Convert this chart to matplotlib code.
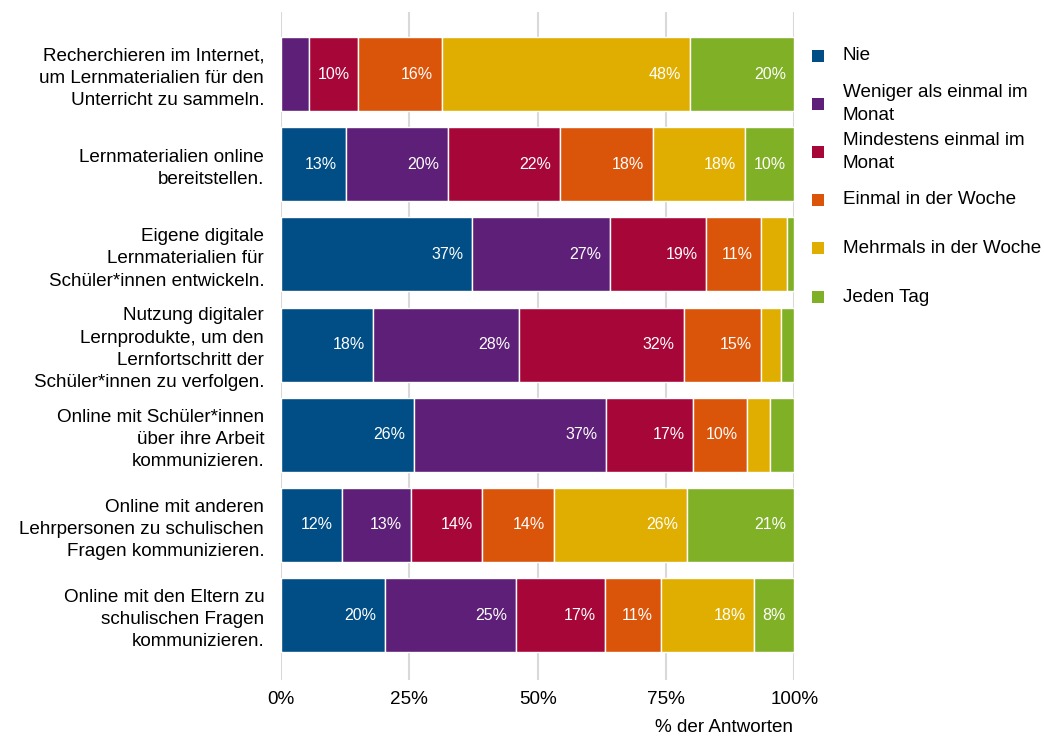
import numpy as np
import matplotlib.pyplot as plt
from matplotlib.patches import Rectangle

plt.rcParams['font.family'] = ['Liberation Sans', 'DejaVu Sans']

# Survey items (top to bottom)
items = [
    'Recherchieren im Internet,\num Lernmaterialien für den\nUnterricht zu sammeln.',
    'Lernmaterialien online\nbereitstellen.',
    'Eigene digitale\nLernmaterialien für\nSchüler*innen entwickeln.',
    'Nutzung digitaler\nLernprodukte, um den\nLernfortschritt der\nSchüler*innen zu verfolgen.',
    'Online mit Schüler*innen\nüber ihre Arbeit\nkommunizieren.',
    'Online mit anderen\nLehrpersonen zu schulischen\nFragen kommunizieren.',
    'Online mit den Eltern zu\nschulischen Fragen\nkommunizieren.',
]

# Answer categories and colours
categories = ['Nie', 'Weniger als einmal im\nMonat', 'Mindestens einmal im\nMonat',
              'Einmal in der Woche', 'Mehrmals in der Woche', 'Jeden Tag']
colors = ['#004E85', '#5E1F78', '#A70639', '#DA550A', '#E0AE00', '#80B025']

# Share of answers in % per category (one list per category, same order as items)
nie        = [0.0, 12.6, 37.3, 18.0, 26.0, 11.9, 20.3]
weniger    = [5.5, 20.0, 26.8, 28.4, 37.3, 13.4, 25.4]
mindestens = [9.6, 21.7, 18.7, 32.0, 17.0, 13.9, 17.4]
einmal     = [16.2, 18.1, 10.7, 15.0, 10.4, 13.9, 11.0]
mehrmals   = [48.4, 17.9, 5.1, 3.9, 4.6, 26.0, 18.1]
jeden_tag  = [20.3, 9.7, 1.4, 2.7, 4.7, 20.9, 7.8]

series = [nie, weniger, mindestens, einmal, mehrmals, jeden_tag]
ticks = [0, 25, 50, 75, 100]
tick_labels = ['0%', '25%', '50%', '75%', '100%']

FS = 13.6

fig = plt.figure(figsize=(10.44, 7.38), dpi=100)
ax = fig.add_axes([0.269, 0.0786, 0.492, 0.9054])

y = np.arange(len(items))
left = np.zeros(len(items))
for vals, col in zip(series, colors):
    vals = np.array(vals)
    bars = ax.barh(y, vals, left=left, height=0.82, color=col,
                   edgecolor='white', linewidth=1, zorder=3)
    # percentage labels only on wide enough segments
    for rect, v in zip(bars, vals):
        if v >= 7:
            ax.text(rect.get_x() + rect.get_width() - 1.7, rect.get_y() + rect.get_height() / 2,
                    f'{round(v)}%', ha='right', va='center', color='white',
                    fontsize=11.5, zorder=4)
    left += vals

ax.set_xlim(0, 100)
ax.set_ylim(6.72, -0.69)
ax.set_xticks(ticks)
ax.set_xticklabels(tick_labels, fontsize=FS)
ax.set_yticks(y)
ax.set_yticklabels(items, fontsize=FS, linespacing=1.4)
ax.tick_params(axis='both', length=0)
ax.tick_params(axis='y', pad=12)
ax.tick_params(axis='x', pad=8)
ax.grid(axis='x', color='#D9D9D9', linewidth=1.5, zorder=0)
for s in ax.spines.values():
    s.set_visible(False)

fig.text(793 / 1044, 1 - 728 / 738, '% der Antworten', ha='right', va='center', fontsize=FS)

# Legend on the right
leg_y = [56, 104, 152, 200, 248, 297]
for lab, col, yp in zip(categories, colors, leg_y):
    fig.patches.append(Rectangle((812 / 1044, 1 - (yp + 6) / 738), 12 / 1044, 12 / 738,
                                 transform=fig.transFigure, facecolor=col, edgecolor='none'))
    fig.text(843 / 1044, 1 - yp / 738, lab, ha='left', va='center', fontsize=FS,
             linespacing=1.4)

fig.savefig('out.png', dpi=100)
